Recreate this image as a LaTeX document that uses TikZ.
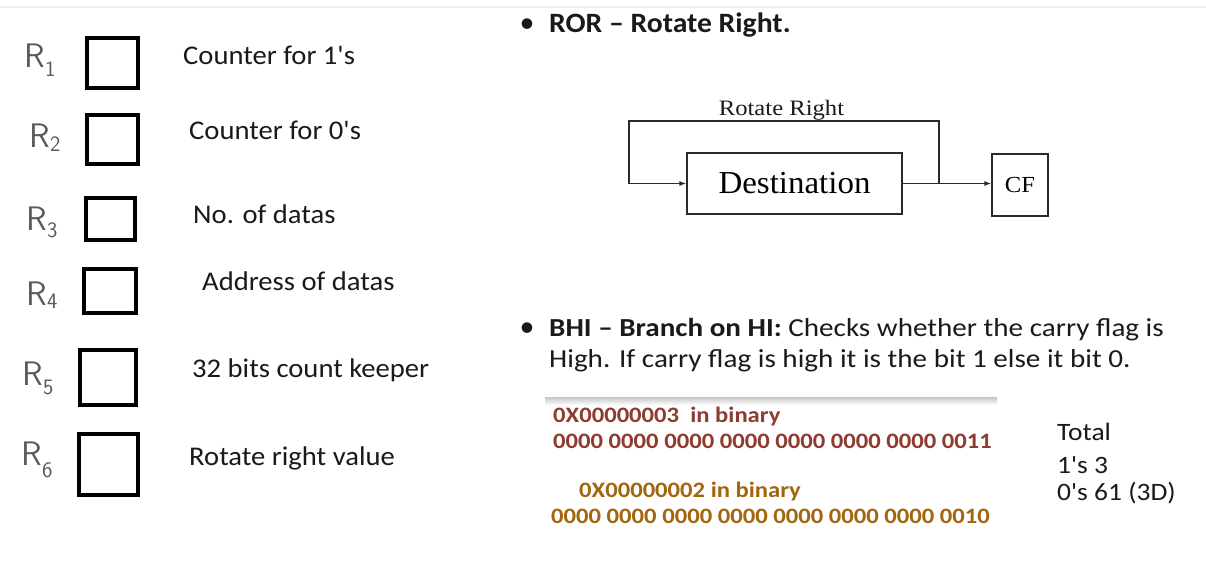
\documentclass[tikz,border=0pt]{standalone}
\usepackage{fontspec}
\usepackage{graphicx}
\setmainfont{Carlito}
\newfontfamily\figserif{Liberation Serif}
\usetikzlibrary{arrows.meta}

\definecolor{ink}{HTML}{1A1A1A}
\definecolor{handgray}{HTML}{5A5A5A}
\definecolor{hexred}{HTML}{8E3B30}
\definecolor{hexgold}{HTML}{A2660E}
\definecolor{wire}{HTML}{2A2A2A}

% horizontally widened text
\newcommand{\wx}[2]{\scalebox{#1}[1]{#2}}
\newcommand{\fs}[1]{\fontsize{#1}{#1}\selectfont}
\newcommand{\q}{\textquotesingle}

\begin{document}
\begin{tikzpicture}[x=1pt,y=-1pt,
  regbox/.style={draw=black,line width=4pt,inner sep=0pt},
  reglabel/.style={text=handgray,inner sep=0pt,font=\sffamily\fs{34}},
  listtext/.style={anchor=base west,inner sep=0pt,text=ink,font=\fs{27}},
  bodytext/.style={anchor=base west,inner sep=0pt,text=ink,font=\fs{26}},
  bulletmark/.style={anchor=base,inner sep=0pt,text=ink,font=\fs{30}},
  blockbox/.style={draw=wire,line width=1.3pt,inner sep=0pt},
  wireline/.style={draw=wire,line width=1.3pt},
  flow/.style={wireline,-{Latex[length=7pt,width=5pt]}},
  bintext/.style={anchor=base west,inner sep=0pt,font=\bfseries\fs{22}},
  sumtext/.style={anchor=base west,inner sep=0pt,text=ink,font=\fs{25}}
]
\useasboundingbox (0,0) rectangle (1206,576);
\fill[white] (0,0) rectangle (1206,576);
\draw[gray!12,line width=1.5pt] (0,7) -- (1206,7);

% ---------- register list ----------
\node[regbox,minimum width=51pt,minimum height=50pt] (box1) at (112.5,63) {};
\node[regbox,minimum width=51pt,minimum height=49pt] (box2) at (112.5,139.5) {};
\node[regbox,minimum width=49pt,minimum height=42pt] (box3) at (110.5,219) {};
\node[regbox,minimum width=52pt,minimum height=44pt] (box4) at (110,291) {};
\node[regbox,minimum width=56pt,minimum height=55pt] (box5) at (108,377.5) {};
\node[regbox,minimum width=59pt,minimum height=61pt] (box6) at (108.5,464.5) {};

\node[reglabel] (r1) at (40,60) {R\raisebox{-9pt}{\fs{22}1}};
\node[reglabel] (r2) at (45,138) {R\raisebox{-4pt}{\fs{22}2}};
\node[reglabel] (r3) at (42,222) {R\raisebox{-7pt}{\fs{22}3}};
\node[reglabel] (r4) at (42,295) {R\raisebox{-3pt}{\fs{22}4}};
\node[reglabel] (r5) at (38,378) {R\raisebox{-9pt}{\fs{22}5}};
\node[reglabel] (r6) at (37,460) {R\raisebox{-12pt}{\fs{22}6}};

\node[listtext] (t1) at (183,64)  {\wx{1.06}{Counter for 1\q s}};
\node[listtext] (t2) at (189,139) {\wx{1.06}{Counter for 0\q s}};
\node[listtext] (t3) at (193,223) {\wx{1.06}{No. of datas}};
\node[listtext] (t4) at (202,290) {\wx{1.06}{Address of datas}};
\node[listtext] (t5) at (192,377) {\wx{1.06}{32 bits count keeper}};
\node[listtext] (t6) at (189,465) {\wx{1.06}{Rotate right value}};

% ---------- ROR ----------
\node[bulletmark] (b1) at (527,32) {•};
\node[anchor=base west,inner sep=0pt,text=ink,font=\bfseries\fs{28}] (ror) at (549,32)
  {\wx{1.06}{ROR – Rotate Right.}};

\node[blockbox,minimum width=215pt,minimum height=61pt,font=\figserif\fs{32}] (dest) at (794.5,183.5)
  {\wx{1.03}{Destination}};
\node[blockbox,minimum width=56pt,minimum height=62pt,font=\figserif\fs{23}] (cf) at (1020,185)
  {\wx{1.07}{CF}};
\node[anchor=base,inner sep=0pt,text=ink,font=\figserif\fs{22}] (rotlbl) at (781.5,115)
  {\wx{1.12}{Rotate Right}};

\coordinate (tap) at (939,183.5);
\coordinate (topright) at (939,121);
\coordinate (topleft) at (629,121);
\coordinate (botleft) at (629,183.5);
\draw[flow] (dest.east) -- (dest.east -| cf.west);
\draw[flow] (tap) -- (topright) -- (topleft) -- (botleft) -- (dest.west);

% ---------- BHI ----------
\node[bulletmark] (b2) at (527,336) {•};
\node[bodytext] (bhi1) at (549,336)
  {\wx{1.12}{\textbf{BHI – Branch on HI:} Checks whether the carry flag is}};
\node[bodytext] (bhi2) at (549,367)
  {\wx{1.12}{High. If carry flag is high it is the bit 1 else it bit 0.}};

% ---------- binary example ----------
\shade[top color=gray!45,bottom color=white] (545,397) rectangle (997,405);
\node[bintext,text=hexred] (hex3) at (553,422) {\wx{1.12}{0X00000003\ \ in binary}};
\node[bintext,text=hexred] (bin3) at (553,448) {\wx{1.12}{0000 0000 0000 0000 0000 0000 0000 0011}};
\node[bintext,text=hexgold] (hex2) at (579,497) {\wx{1.12}{0X00000002 in binary}};
\node[bintext,text=hexgold] (bin2) at (551,523) {\wx{1.12}{0000 0000 0000 0000 0000 0000 0000 0010}};

\node[sumtext] (tot) at (1057,440) {\wx{1.1}{Total}};
\node[sumtext] (ones) at (1057,473) {\wx{1.1}{1\q s 3}};
\node[sumtext] (zeros) at (1057,500) {\wx{1.1}{0\q s 61 (3D)}};
\end{tikzpicture}
\end{document}
